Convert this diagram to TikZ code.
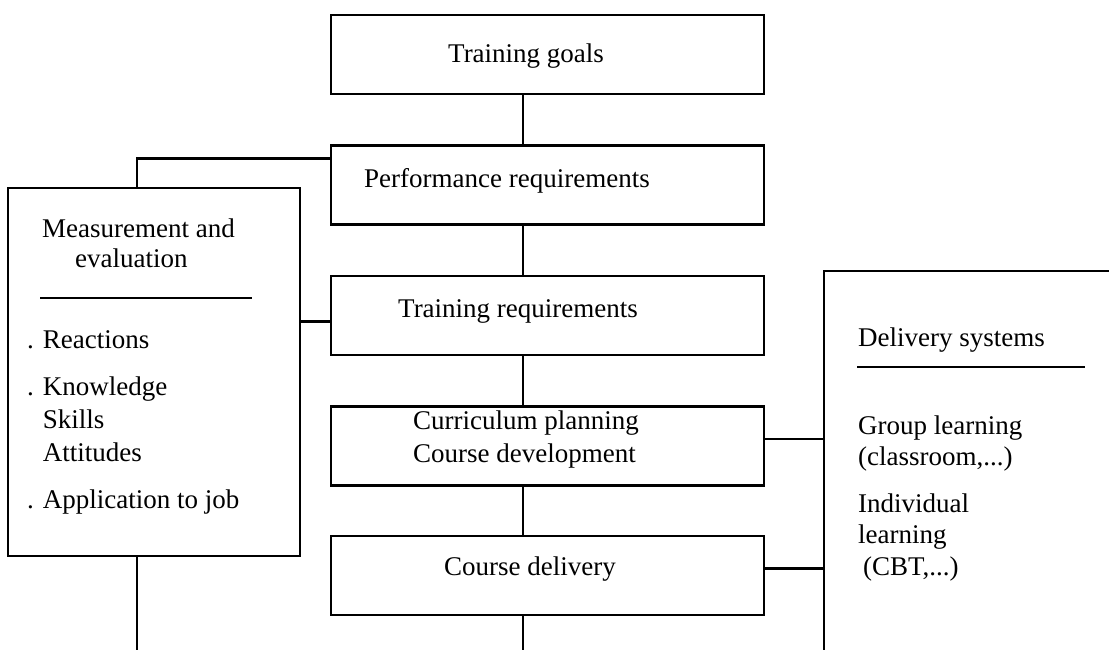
\documentclass[tikz,border=0pt]{standalone}
\usepackage{fontspec}
\setmainfont{Liberation Serif}
\usetikzlibrary{positioning}

\begin{document}
\begin{tikzpicture}[x=1pt,y=-1pt,line width=2.4pt,node distance=49pt,
  stage/.style={draw,minimum width=433pt,minimum height=79pt,inner sep=0pt},
  txt/.style={anchor=base west,inner sep=0pt,align=left,font=\fontsize{27}{33}\selectfont}]
  \useasboundingbox (0,0) rectangle (1109,650);
  \coordinate (spine) at (523,0);
  \coordinate (lspine) at (137,0);
  \coordinate (bot) at (0,650);

  %center
  \node[stage,anchor=north west] (goals) at (330,14) {};
  \node[stage,below=of goals] (perf) {};
  \node[stage,below=of perf] (trreq) {};
  \node[stage,below=of trreq] (curric) {};
  \node[stage,below=48pt of curric] (cdeliv) {};
  \node[txt] (goals-txt) at (447,63) {Training goals};
  \node[txt] (perf-txt) at (363,188) {Performance requirements};
  \node[txt] (trreq-txt) at (397,317) {Training requirements};
  \node[txt] (curric-txt) at (412,462) {Curriculum planning\\Course development};
  \node[txt] (cdeliv-txt) at (443,575) {Course delivery};
  \draw (goals.south -| spine) -- (perf.north -| spine);
  \draw (perf.south -| spine) -- (trreq.north -| spine);
  \draw (trreq.south -| spine) -- (curric.north -| spine);
  \draw (curric.south -| spine) -- (cdeliv.north -| spine);
  \draw (cdeliv.south -| spine) -- (bot -| spine);

  %left
  \node[draw,anchor=north west,minimum width=292pt,minimum height=368pt,inner sep=0pt] (meas) at (7,187) {};
  \node[txt,font=\fontsize{27}{30}\selectfont] (meas-txt) at (41,267) {Measurement and\\\hspace{33pt}evaluation};
  \node[txt] (meas-list) at (26,508) {. Reactions\\[14pt]. Knowledge\\\phantom{. }Skills\\\phantom{. }Attitudes\\[14pt]. Application to job};
  \draw ([shift={(33pt,-111pt)}]meas.north west) -- ++(212pt,0);
  \draw (meas.north -| lspine) |- ([yshift=-14pt]perf.north west);
  \draw ([yshift=-6pt]trreq.west) -- ([yshift=-6pt]trreq.west -| meas.east);
  \draw (meas.south -| lspine) -- (bot -| lspine);

  %right
  \node[anchor=north west,minimum width=285pt,minimum height=379pt,inner sep=0pt] (dlv) at (824,271) {};
  \draw (dlv.south west) -- (dlv.north west) -- (dlv.north east);
  \node[txt] (dlv-txt) at (857,346) {Delivery systems};
  \draw ([shift={(33pt,-96pt)}]dlv.north west) -- ++(228pt,0);
  \node[txt,font=\fontsize{27}{31.5}\selectfont] (dlv-list) at (857,575) {Group learning\\(classroom,...)\\[15pt]Individual\\learning\\\hspace{5pt}(CBT,...)};
  \draw ([yshift=7pt]curric.east) -- ([yshift=7pt]curric.east -| dlv.west);
  \draw ([yshift=7pt]cdeliv.east) -- ([yshift=7pt]cdeliv.east -| dlv.west);
\end{tikzpicture}
\end{document}
